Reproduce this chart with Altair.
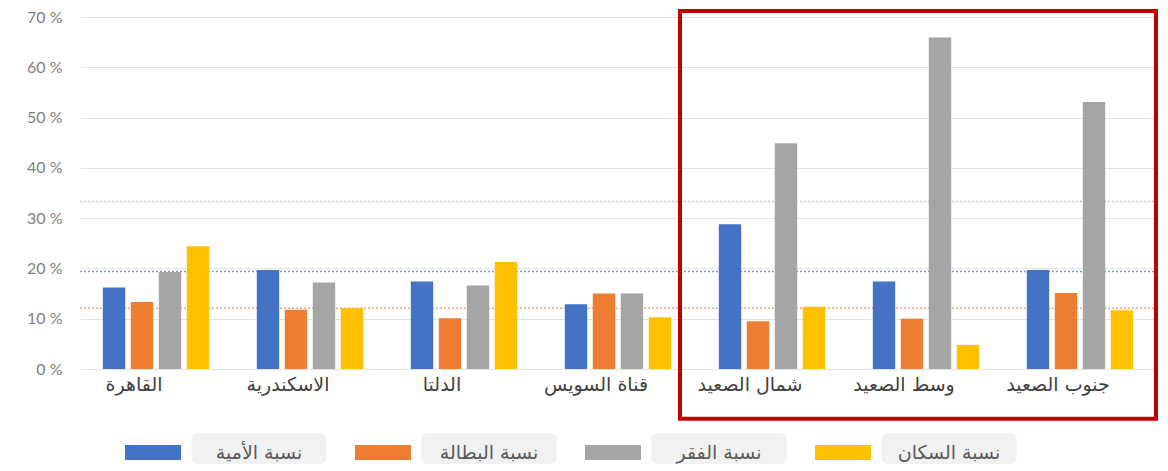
import altair as alt
import pandas as pd

regions = ["القاهرة", "الاسكندرية", "الدلتا", "قناة السويس",
           "شمال الصعيد", "وسط الصعيد", "جنوب الصعيد"]
series = ["نسبة الأمية", "نسبة البطالة", "نسبة الفقر", "نسبة السكان"]

illiteracy = [16.2, 19.7, 17.4, 12.9, 28.8, 17.4, 19.7]
unemployment = [13.3, 11.8, 10.1, 15.0, 9.5, 10.0, 15.1]
poverty = [19.3, 17.2, 16.6, 15.0, 44.9, 65.9, 53.1]
population = [24.4, 12.1, 21.3, 10.3, 12.4, 4.8, 11.7]

colors = ["#4472c4", "#ed7d31", "#a5a5a5", "#ffc000"]

ref_values = [33.3, 19.4, 12.1]
ref_colors = ["#c8c8c8", "#7f9fd8", "#f0a878"]

y_ticks = [0, 10, 20, 30, 40, 50, 60, 70]

rows = []
for s, vals in zip(series, [illiteracy, unemployment, poverty, population]):
    for r, v in zip(regions, vals):
        rows.append({"region": r, "series": s, "value": v})
df = pd.DataFrame(rows)
ref_df = pd.DataFrame({"ref": ref_values, "rc": ref_colors})

AR_FONT = "DejaVu Sans"

x_scale = alt.Scale(domain=regions, paddingInner=0.273, paddingOuter=0.1365, align=0.476)
y_scale = alt.Scale(domain=[0, 70], nice=False)
color_scale = alt.Scale(domain=series, range=colors)

rules = alt.Chart(ref_df).mark_rule(strokeDash=[2, 2], strokeWidth=1.5).encode(
    y=alt.Y("ref:Q", scale=y_scale),
    color=alt.Color("rc:N", scale=None),
)

bars = alt.Chart(df).mark_bar().encode(
    x=alt.X("region:N", scale=x_scale, title=None,
            axis=alt.Axis(domain=False, ticks=False, labelAngle=0, labelPadding=6,
                          labelFontSize=19, labelFont=AR_FONT, labelColor="#404040",
                          labelOffset=-22, grid=False)),
    xOffset=alt.XOffset("series:N", scale=alt.Scale(domain=series, paddingInner=0.2, paddingOuter=0.1)),
    y=alt.Y("value:Q", scale=y_scale, title=None,
            axis=alt.Axis(values=y_ticks, labelExpr="datum.value + ' %'", domain=False,
                          ticks=False, labelPadding=18, labelFontSize=16, labelFont="Lato",
                          labelColor="#7f7f7f", gridColor="#e4e4e4", gridWidth=1,
                          minExtent=72, maxExtent=72)),
    color=alt.Color("series:N", scale=color_scale, legend=None),
)

frame = alt.Chart(pd.DataFrame({"a": [0]})).mark_rect(
    fillOpacity=0, stroke="#c00000", strokeWidth=4, xOffset=-36, x2Offset=20
).encode(
    x=alt.XDatum(regions[4], type="nominal", bandPosition=0),
    x2=alt.X2Datum(regions[6], bandPosition=1),
    y=alt.YDatum(71.2, type="quantitative"),
    y2=alt.Y2Datum(-9.9),
)

main = alt.layer(rules, bars, frame).properties(width=1078, height=352)

leg_df = pd.DataFrame({"series": series})
lx = alt.X("series:N", scale=alt.Scale(type="point", domain=series, range=[146, 836], padding=0), axis=None)

leg_box = alt.Chart(leg_df).mark_rect(width=135, cornerRadius=6, color="#f1f1f1", xOffset=33).encode(x=lx)
leg_sw = alt.Chart(leg_df).mark_point(
    shape="M-1,-0.27H1V0.27H-1Z", size=3136, filled=True, opacity=1, xOffset=-73, yOffset=4
).encode(x=lx, color=alt.Color("series:N", scale=color_scale, legend=None))
leg_txt = alt.Chart(leg_df).mark_text(
    xOffset=33, yOffset=4, fontSize=19, color="#595959", font=AR_FONT
).encode(x=lx, text="series:N")

legend = alt.layer(leg_box, leg_sw, leg_txt).properties(width=1078, height=31)

chart = alt.vconcat(main, legend, spacing=64, bounds="flush").properties(
    padding={"left": 0, "top": 0, "right": 0, "bottom": 0}
).configure_view(strokeWidth=0).resolve_scale(color="independent")

chart.save("out.html", embed_options={"renderer": "svg", "actions": False})
